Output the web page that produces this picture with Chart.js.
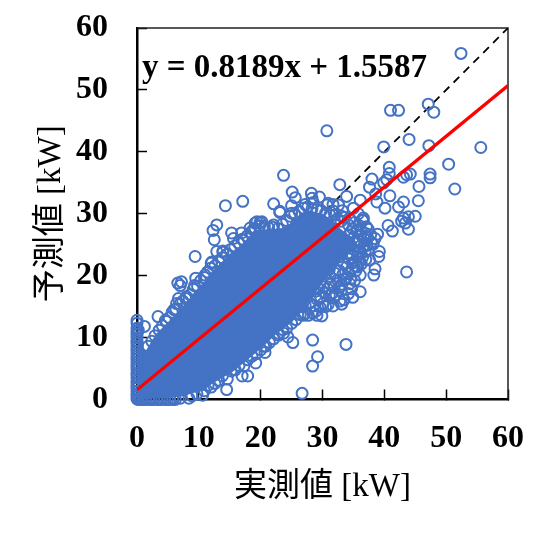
<!DOCTYPE html>
<html><head><meta charset="utf-8">
<style>html,body{margin:0;padding:0;background:#fff}canvas{display:block}</style>
<script src="https://cdn.jsdelivr.net/npm/chart.js@4"></script></head>
<body><canvas id="c" width="548" height="533"></canvas>
<script>
const xTickLabels=[0,10,20,30,40,50,60];
const yTickLabels=[0,10,20,30,40,50,60];
const xAxisTitle="実測値 [kW]";
const yAxisTitle="予測値 [kW]";
const equationText="y = 0.8189x + 1.5587";
const regressionLine=[[0,1.5587],[60,50.69]];
const identityLine=[[0,0],[60,60]];
// The dense core is too overplotted to read single points: it is drawn as the band between
// these two outlines; the readable points below are drawn one by one.
const coreUpper=[[0,8.5],[1.5,8],[3,10.5],[4.5,12],[6,13.5],[7.5,15],[9,17],[10.5,18.5],[12,20.5],[13.5,22],[15,23.5],[17,25],[19,27.3],[21,27.5],[23,27.5],[25,28.5],[26.5,30],[28,30.5],[30,30],[31.5,29],[33,27.5],[35,26],[36,24.5]];
const coreLower=[[0,0],[7.3,0.5],[10.5,1.5],[13.1,3.1],[15.4,4.4],[18,6.5],[20.7,8.8],[22.3,10.4],[25.1,12.5],[28,16],[30.4,19.3],[32.8,22.2],[34.5,24],[36,24.5]];
const isolatedPoints=[[52.4,55.9],[41,46.7],[42.3,46.7],[47.1,47.7],[48,46.4],[30.7,43.4],[44,42],[39.9,40.8],[47.2,41],[55.6,40.7],[50.4,38],[40.8,37.5],[40.8,36.5],[38,35.6],[40.4,35.5],[39.9,35],[43.1,35.9],[43.6,36.3],[44.2,36.4],[47.4,36.4],[47.4,35.8],[45.6,34.4],[51.4,34],[32.8,34.7],[37.6,34.3],[33.9,32.8],[36.1,32.2],[38.6,33.2],[40.9,32.9],[38.8,31.9],[43.1,31.9],[45.5,32.1],[40.1,30.9],[42.3,31.1],[45,29.6],[43.9,29.5],[42.8,28.8],[43.9,27.5],[43.1,29.3],[43.4,28.5],[40.6,28.1],[41.3,27.2],[38.9,26.7],[38.5,26],[37.4,27.5],[36.6,29],[39.2,23.9],[39.1,23.1],[37.6,22.5],[35.8,23.6],[35.5,21.5],[38.5,21.1],[38.3,20.1],[36.1,20.1],[34.6,19.5],[43.6,20.6],[36.1,17.4],[33,17.5],[33.5,16.1],[33.1,15.4],[31.8,16.4],[29.9,13.5],[33.8,8.9],[29.2,6.9],[28.4,9.6],[28.4,5.4],[26.7,1],[25.2,9.2],[24.4,10.1],[23.7,10.7],[22.9,10.7],[20.7,7.6],[19.2,5.9],[17.9,3.8],[17,3.8],[14.5,1.6],[12,2],[10.6,0.7],[8.4,0.2],[7,0.2],[5.8,0.2],[9.4,23.1],[12.9,28.2],[12.3,27.3],[12.5,25.8],[12.9,23.9],[13.9,23.8],[12.1,22.2],[15.3,26.9],[15.6,26],[16.9,26.9],[17,25.9],[18.8,27.4],[19.9,28.6],[19.1,28.5],[22.1,28.2],[23.1,30.2],[14.3,31.3],[17.1,32],[23.7,36.2],[25.1,33.5],[25.6,32.6],[28.2,33.3],[28.3,32.5],[29.5,32.7],[22.1,31.6],[23.1,30.4],[25,31.3],[27.2,31.5],[28.5,31.8],[30.7,31.4],[18.3,27.7],[19.4,28.7],[20.2,28.7],[25,30.1],[13.9,24],[6.6,18.8],[7.2,19],[7,18.4],[9.5,19.6],[9.3,18.4],[11,20.1],[12,22],[3.4,13.4],[4.8,12.6],[6.4,15.5],[6.7,16.3],[6,14.5],[8,16.6],[0,12.8],[0,12.3],[1.2,11.8],[0.2,11.2],[30.9,31.7],[31.7,31.5],[32.6,31.4],[33.2,30.5],[35,30.9],[36.6,29.3],[36.5,28.9],[35.8,30],[20.5,8.6],[29.1,13.6],[26.9,13.6],[34.9,16.5],[34.2,17.1]];
const upperEdgePoints=[[1.8,8.6],[2.4,9.4],[2.9,10.3],[3.6,11.2],[4.1,11.9],[4.6,12.8],[5.2,13.2],[5.7,14.1],[6.3,14.6],[6.9,15.4],[7.4,15.9],[7.9,16.3],[8.6,16.9],[9.1,17.8],[9.8,18.3],[10.3,19.2],[10.9,19.7],[11.4,20.6],[11.9,21.2],[12.6,21.6],[13.2,22.4],[13.8,22.9],[14.5,23.4],[15.1,24.2],[15.8,24.8],[16.4,25.3],[17.2,25.7],[17.8,26.4],[18.4,27],[19.1,27.6],[19.8,28],[20.6,28],[21.3,27.7],[22,27.8],[22.8,27.6],[23.5,28.3],[24.2,28.9],[24.8,29.6],[25.5,30],[26.2,30.4],[26.9,30.9],[27.6,31.1],[28.3,30.8],[29.1,30.7],[29.8,30.5],[30.5,30.1],[31.2,29.8],[31.8,30.4],[32.4,29.2],[33,28.8],[33.6,29.4],[34.2,28.2],[34.9,27.6],[35.5,27.2],[36.2,26.6],[36.7,26]];
const lowerEdgePoints=[[8.9,0.6],[9.7,0.9],[10.9,1.4],[11.5,2.3],[12.6,2.6],[13.2,3.1],[13.8,3.8],[14.6,3.3],[15.2,4.6],[15.9,4.8],[16.5,5.5],[17.3,5.4],[17.9,6.4],[18.6,7],[19.3,7.4],[20,8],[20.8,8.6],[21.4,9.2],[22.1,9.8],[22.9,10.4],[23.6,11.3],[24.2,11.5],[25,12.3],[25.7,12.9],[26.4,13.7],[27.1,13.9],[27.7,13.6],[28.4,14],[29,14.3],[29.6,14.9],[30.1,15.5],[30.5,15],[31.1,16.8],[31.6,17.2],[32.2,16.9],[32.7,18.1],[33.1,18.6],[33.6,19.4],[34.2,20.3],[34.8,21.2],[35.3,22.2],[35.7,23.1],[36.1,24],[36.8,25],[37.3,26.1]];
const looseBandPoints=[[26.5,15],[27.2,15.2],[27.9,15.6],[28.5,15.1],[29.1,16.2],[29.7,16.6],[30.3,17.2],[28.9,17.5],[30.8,17.9],[31.3,18.6],[31.9,18.2],[32.4,19.3],[31.2,19.9],[32,20.4],[32.7,20.8],[33.3,20.2],[33.9,21.4],[33.4,22],[34.3,22.7],[34.8,23.4],[35.2,24.2],[34.4,24.8],[35.5,25.3],[36,25.7],[33.1,23.6],[32.6,23],[35.1,26.2],[34.3,26.6],[36.6,24.6],[37.2,24.9],[37.9,25.4],[35.9,22.7],[36.5,23],[34.9,22.1],[35.4,20.8],[33.8,19.6],[34.4,18.7],[30.1,18.2],[29.4,17.9],[31.1,21],[30.6,20.5],[33,24.6],[32.2,24.1],[34.6,27.1],[36.2,27.4],[37,26.8],[32,29.8],[33.1,29.6],[34.4,29.2],[35.2,28.6],[35.9,28.1],[37.1,27.9],[37.8,26.6],[38.2,25.1],[36.9,23.9],[37.4,24.2],[35.2,19.2],[34.7,17.9],[32.8,15.9],[30.9,15.3],[31.7,15.1],[34,23.5],[35.7,21.4],[36.3,21.9],[37,22.6]];
const zeroActualPredicted=[0.1,0.5,0.9,1.3,1.8,2.2,2.6,3,3.5,3.9,4.3,4.8,5.2,5.6,6,6.5,6.9,7.3,7.8,8.2,8.6,9.1,9.5,10,10.4,10.9,11.5];
const zeroPredictedActual=[0.2,0.6,1,1.4,1.9,2.3,2.7,3.2,3.6,4,4.5,4.9,5.3,5.8,6.2];
const pts=a=>a.map(p=>({x:p[0],y:p[1]}));
const markerPoints=pts(isolatedPoints.concat(upperEdgePoints,lowerEdgePoints,looseBandPoints))
 .concat(zeroActualPredicted.map(v=>({x:0,y:v})),zeroPredictedActual.map(v=>({x:v,y:0})));
const BLUE="#4472C4";
const titleFont={family:'"Liberation Serif","Noto Sans CJK JP"',size:33,weight:"normal"};
const tickFont={family:'"Liberation Serif"',size:32,weight:"bold"};
const frameAndText={id:"frameAndText",
 beforeDatasetsDraw(ch){const a=ch.chartArea,c=ch.ctx;c.save();c.strokeStyle="#222";c.lineWidth=1.5;
  c.beginPath();c.moveTo(a.left,a.top);c.lineTo(a.right,a.top);c.lineTo(a.right,a.bottom);c.stroke();c.restore();},
 afterDraw(ch){const c=ch.ctx;c.save();c.fillStyle="#000";c.font='bold 33px "Liberation Serif"';c.textBaseline="alphabetic";
  c.fillText(equationText,142,77);c.restore();}};
new Chart(document.getElementById("c"),{
 type:"scatter",
 plugins:[frameAndText],
 data:{datasets:[
  {type:"line",label:"regression",data:pts(regressionLine),borderColor:"#FF0000",borderWidth:3.3,pointRadius:0,order:1,fill:false},
  {label:"points",data:markerPoints,borderColor:BLUE,backgroundColor:"transparent",borderWidth:2,pointRadius:5.5,clip:false,order:2},
  {type:"line",label:"core upper",data:pts(coreUpper),borderWidth:0,pointRadius:0,backgroundColor:BLUE,fill:"+1",order:3},
  {type:"line",label:"core lower",data:pts(coreLower),borderWidth:0,pointRadius:0,fill:false,order:3},
  {type:"line",label:"identity",data:pts(identityLine),borderColor:"#000",borderWidth:1.8,borderDash:[8,6],pointRadius:0,order:4,fill:false}
 ]},
 options:{responsive:false,animation:false,
  layout:{padding:{top:28,right:40,left:0,bottom:0}},
  plugins:{legend:{display:false},tooltip:{enabled:false}},
  scales:{
   x:{type:"linear",min:0,max:60,afterFit:s=>{s.height=133.5;s.paddingLeft=0;s.paddingRight=0},
    border:{color:"#000",width:2.5},
    grid:{drawOnChartArea:false,tickLength:-10,tickColor:"#000",tickWidth:1.5},
    ticks:{stepSize:10,color:"#000",font:tickFont,padding:30,maxRotation:0,includeBounds:true,callback:(v,i)=>xTickLabels[i]},
    title:{display:true,text:xAxisTitle,color:"#000",font:titleFont,padding:{top:26,bottom:26}}},
   y:{type:"linear",min:0,max:60,afterFit:s=>{s.width=137;s.paddingTop=0;s.paddingBottom=0},
    border:{color:"#000",width:2.5},
    grid:{drawOnChartArea:false,tickLength:-10,tickColor:"#000",tickWidth:1.5},
    ticks:{stepSize:10,color:"#000",font:tickFont,padding:39,callback:(v,i)=>yTickLabels[i]},
    title:{display:true,text:yAxisTitle,color:"#000",font:titleFont,padding:{top:32,bottom:0}}}
  }}
});
</script></body></html>
